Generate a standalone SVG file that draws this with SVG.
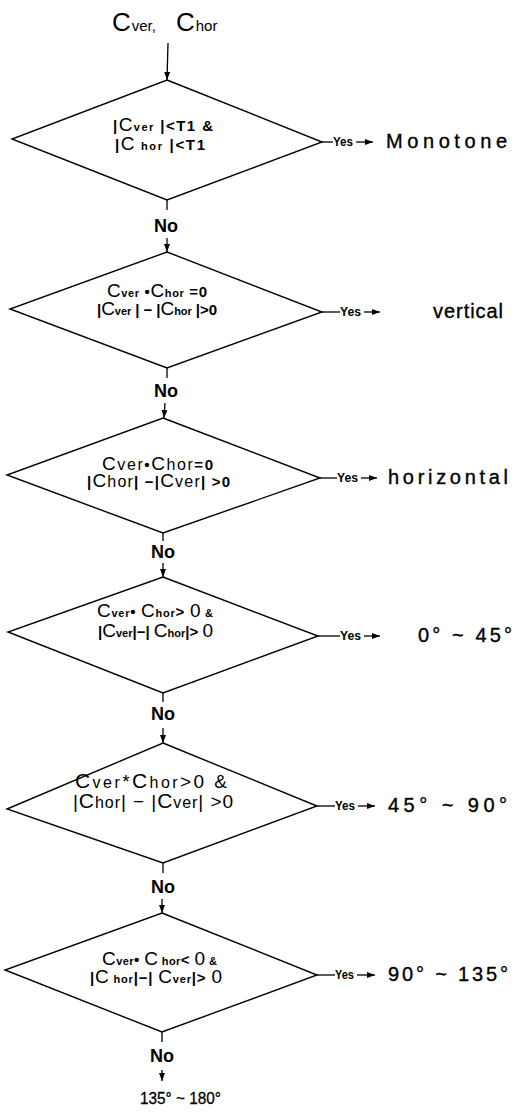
<svg xmlns="http://www.w3.org/2000/svg" width="527" height="1118" viewBox="0 0 527 1118">
  <style>
    .dm{fill:#fff;stroke:#000;stroke-width:1.4;stroke-linejoin:miter}
    .ln{fill:none;stroke:#000;stroke-width:1.3}
    text{font-family:"Liberation Sans",Arial,Helvetica,sans-serif;fill:#000}
    .c{font-size:19px}
    .s{font-size:11px;font-weight:bold}
    .o{font-size:15px;font-weight:bold}
    .c2{font-size:21px}
    .s2{font-size:16px}
    .o2{font-size:19px}
    .yes{font-size:12px;font-weight:bold}
    .res{font-size:20px;stroke:#000;stroke-width:0.35}
    .no{font-size:18px;font-weight:bold}
  </style>
  <defs>
    <marker id="ah" markerWidth="8" markerHeight="6" refX="8" refY="3" orient="auto" markerUnits="userSpaceOnUse">
      <path d="M0,0 L8,3 L0,6 z" fill="#000"/>
    </marker>
  </defs>

  <!-- input values -->
  <g id="input">
    <text x="112" y="31"><tspan font-size="26">C</tspan><tspan font-size="15" dx="1">ver,</tspan><tspan font-size="26" x="176">C</tspan><tspan font-size="15" dx="1">hor</tspan></text>
  </g>

  <!-- decision 1 -->
  <g id="d1">
    <polygon class="dm" points="167,80 322,142 167,200 12,139"/>
    <text x="113" y="131" textLength="100" lengthAdjust="spacing"><tspan class="o">|</tspan><tspan class="c">C</tspan><tspan class="s">ver</tspan><tspan class="o"> |&lt;T1 &amp;</tspan></text>
    <text x="115" y="150" textLength="90" lengthAdjust="spacing"><tspan class="o">|</tspan><tspan class="c">C</tspan><tspan class="s"> hor</tspan><tspan class="o"> |&lt;T1</tspan></text>
  </g>

  <!-- decision 2 -->
  <g id="d2">
    <polygon class="dm" points="167,252 322,312 167,368 10,309"/>
    <text x="107" y="297" textLength="100" lengthAdjust="spacing"><tspan class="c">C</tspan><tspan class="s">ver</tspan><tspan class="o"> •</tspan><tspan class="c">C</tspan><tspan class="s">hor</tspan><tspan class="o"> =0</tspan></text>
    <text x="97" y="315" textLength="120" lengthAdjust="spacing"><tspan class="o">|</tspan><tspan class="c">C</tspan><tspan class="s">ver</tspan><tspan class="o"> | − |</tspan><tspan class="c">C</tspan><tspan class="s">hor</tspan><tspan class="o"> |&gt;0</tspan></text>
  </g>

  <!-- decision 3 -->
  <g id="d3">
    <polygon class="dm" points="163,418 320,478 163,533 7,475"/>
    <text x="102" y="470" textLength="111" lengthAdjust="spacing"><tspan class="c">C</tspan><tspan class="s2">ver</tspan><tspan class="o">•</tspan><tspan class="c">C</tspan><tspan class="s2">hor</tspan><tspan class="o">=0</tspan></text>
    <text x="87" y="487" textLength="143" lengthAdjust="spacing"><tspan class="o">|</tspan><tspan class="c">C</tspan><tspan class="s2">hor</tspan><tspan class="o">| −|</tspan><tspan class="c">C</tspan><tspan class="s2">ver</tspan><tspan class="o">| &gt;0</tspan></text>
  </g>

  <!-- decision 4 -->
  <g id="d4">
    <polygon class="dm" points="163,577 318,636 163,693 8,632"/>
    <text x="97" y="617" textLength="116" lengthAdjust="spacing"><tspan class="c">C</tspan><tspan class="s">ver</tspan><tspan class="o">• </tspan><tspan class="c">C</tspan><tspan class="s">hor</tspan><tspan class="o">&gt; </tspan><tspan class="c">0</tspan><tspan class="s">  &amp;</tspan></text>
    <text x="98" y="637" textLength="115" lengthAdjust="spacing"><tspan class="o">|</tspan><tspan class="c">C</tspan><tspan class="s">ver</tspan><tspan class="o">|−| </tspan><tspan class="c">C</tspan><tspan class="s">hor</tspan><tspan class="o">|&gt; </tspan><tspan class="c">0</tspan></text>
  </g>

  <!-- decision 5 -->
  <g id="d5">
    <polygon class="dm" points="163,743 317,806 163,863 7,809"/>
    <text x="75" y="788" textLength="152" lengthAdjust="spacing"><tspan class="c2">C</tspan><tspan class="s2">ver</tspan><tspan class="o2">*</tspan><tspan class="c2">C</tspan><tspan class="s2">hor</tspan><tspan class="o2">&gt;0 &amp;</tspan></text>
    <text x="73" y="808" textLength="160" lengthAdjust="spacing"><tspan class="o2">|</tspan><tspan class="c2">C</tspan><tspan class="s2">hor</tspan><tspan class="o2">| − |</tspan><tspan class="c2">C</tspan><tspan class="s2">ver</tspan><tspan class="o2">| &gt;0</tspan></text>
  </g>

  <!-- decision 6 -->
  <g id="d6">
    <polygon class="dm" points="162,913 317,975 162,1032 5,970"/>
    <text x="102" y="965" textLength="115" lengthAdjust="spacing"><tspan class="c">C</tspan><tspan class="s">ver</tspan><tspan class="o">• </tspan><tspan class="c">C</tspan><tspan class="s"> hor</tspan><tspan class="o">&lt; </tspan><tspan class="c">0</tspan><tspan class="s">  &amp;</tspan></text>
    <text x="90" y="983" textLength="132" lengthAdjust="spacing"><tspan class="o">|</tspan><tspan class="c">C</tspan><tspan class="s"> hor</tspan><tspan class="o">|−| </tspan><tspan class="c">C</tspan><tspan class="s">ver</tspan><tspan class="o">|&gt; </tspan><tspan class="c">0</tspan></text>
  </g>

  <!-- outcomes -->
  <g id="r1"><text class="res" x="386" y="148" textLength="121" lengthAdjust="spacing">Monotone</text></g>
  <g id="r2"><text class="res" x="433" y="318" textLength="70" lengthAdjust="spacing">vertical</text></g>
  <g id="r3"><text class="res" x="388" y="484" textLength="120" lengthAdjust="spacing">horizontal</text></g>
  <g id="r4"><text class="res" x="418" y="642" textLength="94" lengthAdjust="spacing">0° ~ 45°</text></g>
  <g id="r5"><text class="res" x="388" y="812" textLength="119" lengthAdjust="spacing">45° ~ 90°</text></g>
  <g id="r6"><text class="res" x="388" y="981" textLength="120" lengthAdjust="spacing">90° ~ 135°</text></g>
  <g id="r7"><text x="140" y="1104" font-size="17" stroke="#000" stroke-width="0.3" textLength="81" lengthAdjust="spacingAndGlyphs">135° ~ 180°</text></g>

  <!-- connectors -->
  <g id="connectors">
    <line class="ln" x1="168" y1="43" x2="167" y2="80" marker-end="url(#ah)"/>

    <!-- "No" branches -->
    <line class="ln" x1="167" y1="200" x2="167" y2="210"/>
    <text class="no" x="166" y="232" text-anchor="middle">No</text>
    <line class="ln" x1="167" y1="238" x2="167" y2="252" marker-end="url(#ah)"/>

    <line class="ln" x1="167" y1="368" x2="167" y2="378"/>
    <text class="no" x="166" y="397" text-anchor="middle">No</text>
    <line class="ln" x1="165" y1="403" x2="164" y2="418" marker-end="url(#ah)"/>

    <line class="ln" x1="163" y1="533" x2="163" y2="541"/>
    <text class="no" x="163" y="558" text-anchor="middle">No</text>
    <line class="ln" x1="163" y1="563" x2="163" y2="577" marker-end="url(#ah)"/>

    <line class="ln" x1="163" y1="693" x2="163" y2="702"/>
    <text class="no" x="163" y="720" text-anchor="middle">No</text>
    <line class="ln" x1="163" y1="728" x2="163" y2="743" marker-end="url(#ah)"/>

    <line class="ln" x1="163" y1="863" x2="163" y2="873"/>
    <text class="no" x="163" y="893" text-anchor="middle">No</text>
    <line class="ln" x1="162" y1="899" x2="162" y2="913" marker-end="url(#ah)"/>

    <line class="ln" x1="162" y1="1032" x2="162" y2="1042"/>
    <text class="no" x="162" y="1062" text-anchor="middle">No</text>
    <line class="ln" x1="162" y1="1070" x2="162" y2="1081" marker-end="url(#ah)"/>

    <!-- "Yes" branches -->
    <line class="ln" x1="322" y1="142" x2="333" y2="142"/>
    <text class="yes" x="333" y="146" textLength="20" lengthAdjust="spacingAndGlyphs">Yes</text>
    <line class="ln" x1="356" y1="142" x2="373" y2="142" marker-end="url(#ah)"/>

    <line class="ln" x1="322" y1="312" x2="340" y2="312"/>
    <text class="yes" x="340" y="316" textLength="21" lengthAdjust="spacingAndGlyphs">Yes</text>
    <line class="ln" x1="364" y1="312" x2="380" y2="312" marker-end="url(#ah)"/>

    <line class="ln" x1="320" y1="478" x2="337" y2="478"/>
    <text class="yes" x="337" y="482" textLength="21" lengthAdjust="spacingAndGlyphs">Yes</text>
    <line class="ln" x1="361" y1="478" x2="377" y2="478" marker-end="url(#ah)"/>

    <line class="ln" x1="318" y1="636" x2="340" y2="636"/>
    <text class="yes" x="340" y="640" textLength="21" lengthAdjust="spacingAndGlyphs">Yes</text>
    <line class="ln" x1="364" y1="636" x2="380" y2="636" marker-end="url(#ah)"/>

    <line class="ln" x1="317" y1="806" x2="335" y2="806"/>
    <text class="yes" x="335" y="810" textLength="20" lengthAdjust="spacingAndGlyphs">Yes</text>
    <line class="ln" x1="358" y1="806" x2="375" y2="806" marker-end="url(#ah)"/>

    <line class="ln" x1="317" y1="975" x2="335" y2="975"/>
    <text class="yes" x="335" y="979" textLength="19" lengthAdjust="spacingAndGlyphs">Yes</text>
    <line class="ln" x1="357" y1="975" x2="375" y2="975" marker-end="url(#ah)"/>
  </g>
</svg>
